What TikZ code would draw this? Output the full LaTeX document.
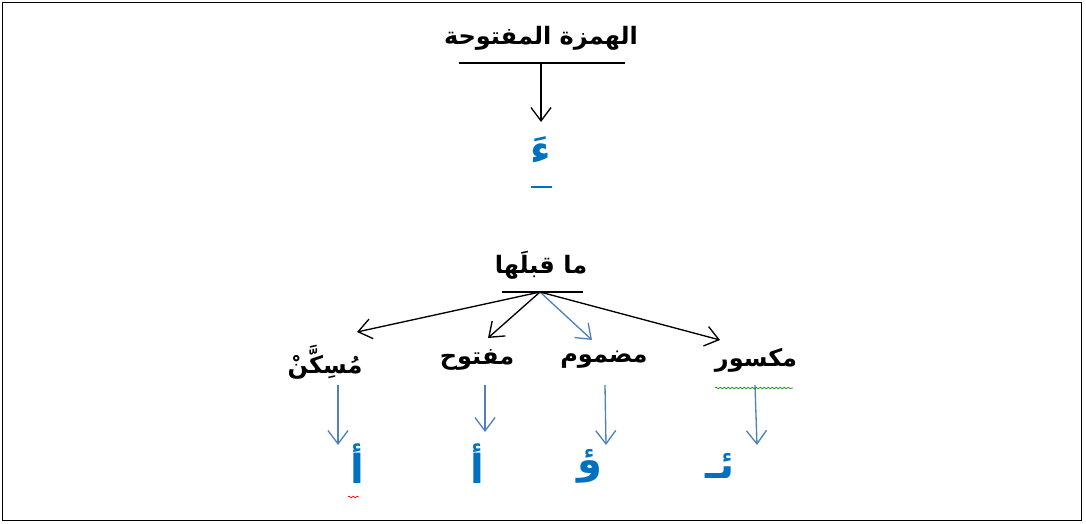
\documentclass[tikz,border=0pt]{standalone}
\usepackage{fontspec}
\TeXXeTstate=1
\newfontfamily\arabicfont[Script=Arabic]{DejaVu Sans}
\usetikzlibrary{arrows.meta,decorations.pathmorphing}
\definecolor{txtblue}{HTML}{0070C0}
\definecolor{arrblue}{HTML}{4F81BD}
\tikzset{
  lbl/.style={font=\arabicfont\bfseries\fontsize{18}{22}\selectfont, text=black, inner sep=0pt},
  blbl/.style={font=\arabicfont\bfseries\fontsize{30}{34}\selectfont, text=txtblue, inner sep=0pt},
  blkarrow/.style={draw=black, line width=1pt, -{Straight Barb[length=10pt,width=15pt,line width=1pt]}},
  bluarrow/.style={draw=arrblue, line width=1pt, -{Straight Barb[length=10pt,width=15pt,line width=1pt]}},
  uline/.style={draw=black, line width=1pt},
}
\begin{document}
\begin{tikzpicture}[x=0.75pt,y=-0.75pt]
\useasboundingbox (0,0) rectangle (1086,524);
\draw[line width=0.6pt] (2,2) rectangle (1081,520);
% title
\node[lbl] (title) at (541,38) {\arabicfont\bfseries\beginR الهمزة المفتوحة\endR};
\coordinate (tl) at (459,63);
\coordinate (tr) at (625,63);
\draw[uline] (tl) -- (tr);
\coordinate (tq) at (541,63);
\node[blbl] (hamza) at (541,150) {\arabicfont\bfseries\beginR ءَ\endR};
\coordinate (hamzaTop) at (541,122);
\draw[blkarrow] (tq) -- (hamzaTop);
\coordinate (dl) at (531,187);
\coordinate (dr) at (552,187);
\draw[draw=txtblue, line width=2.2pt] (dl) -- (dr);
% before
\node[lbl] (before) at (541,265) {\arabicfont\bfseries\beginR ما قبلَها\endR};
\coordinate (bl) at (502,292);
\coordinate (br) at (583,292);
\draw[uline] (bl) -- (br);
\coordinate (bq) at (540,292);
% options
\node[lbl] (sakin) at (325,362) {\arabicfont\bfseries\beginR مُسِكَّنْ\endR};
\node[lbl] (fath) at (477,360) {\arabicfont\bfseries\beginR مفتوح\endR};
\node[lbl] (damm) at (604,360) {\arabicfont\bfseries\beginR مضموم\endR};
\node[lbl] (kasr) at (756,360) {\arabicfont\bfseries\beginR مكسور\endR};
\coordinate (sakinTop) at (357,332);
\coordinate (fathTop) at (488,338);
\coordinate (dammTop) at (592,340);
\coordinate (kasrTop) at (720,340);
\draw[blkarrow] (bq) -- (sakinTop);
\draw[blkarrow] (bq) -- (fathTop);
\draw[bluarrow] (bq) -- (dammTop);
\draw[blkarrow] (bq) -- (kasrTop);
% results
\node[blbl] (r1) at (357,464) {\arabicfont\bfseries\beginR أ\endR};
\node[blbl] (r2) at (477,464) {\arabicfont\bfseries\beginR أ\endR};
\node[blbl] (r3) at (590,466) {\arabicfont\bfseries\beginR ؤ\endR};
\node[blbl] (r4) at (720,466) {\arabicfont\bfseries\beginR ئـ\endR};
\coordinate (s1) at (338,385); \coordinate (e1) at (338,445);
\coordinate (s2) at (485,385); \coordinate (e2) at (485,432);
\coordinate (s3) at (605,385); \coordinate (e3) at (606,445);
\coordinate (s4) at (755,385); \coordinate (e4) at (757,445);
\draw[bluarrow] (s1) -- (e1);
\draw[bluarrow] (s2) -- (e2);
\draw[bluarrow] (s3) -- (e3);
\draw[bluarrow] (s4) -- (e4);
% proofing squiggles
\coordinate (g1) at (715,388); \coordinate (g2) at (793,388);
\draw[green!60!black, line width=0.5pt, decorate, decoration={snake, amplitude=0.6pt, segment length=3pt}] (g1) -- (g2);
\coordinate (q1) at (348,497); \coordinate (q2) at (359,497);
\draw[red, line width=0.5pt, decorate, decoration={snake, amplitude=0.6pt, segment length=3pt}] (q1) -- (q2);
\end{tikzpicture}
\end{document}
